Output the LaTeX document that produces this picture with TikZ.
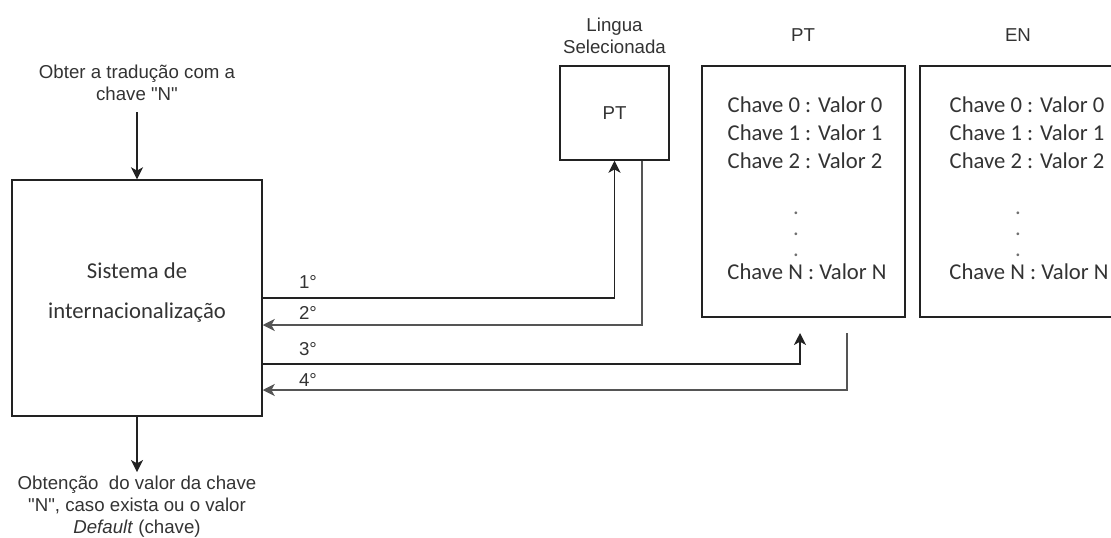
\documentclass[tikz,border=0pt]{standalone}
\usepackage{fontspec}
\setmainfont{Liberation Sans}[Ligatures=TeXOff]
\newfontfamily\calib{Carlito}
\usetikzlibrary{arrows.meta}
\definecolor{txt}{HTML}{333333}
\definecolor{ln}{HTML}{222222}
\definecolor{lng}{HTML}{555555}
\begin{document}
\begin{tikzpicture}[x=0.75pt,y=-0.75pt,
  lbl/.style={font=\fontsize{14}{16.5}\selectfont, text=txt, align=center, inner sep=0},
  ctext/.style={font=\calib\fontsize{17}{21}\selectfont, text=txt, align=center, inner sep=0},
  dots/.style={font=\calib\fontsize{17}{15.75}\selectfont, text=txt!70, align=center, inner sep=0},
  box/.style={draw=ln, line width=1.1pt, inner sep=0},
  arr/.style={draw=ln, line width=1.1pt, -{Stealth[length=9pt,width=9pt,inset=2.5pt]}},
  arrg/.style={arr, draw=lng}]
\useasboundingbox (0,0) rectangle (1111,537);

% main box
\node[box, minimum width=187.5pt, minimum height=177pt] (main) at (137,298) {};
\node[ctext, font=\calib\fontsize{17}{30}\selectfont] (systxt) at (137,293) {Sistema de\\internacionaliza\c{c}\~ao};

% input / output texts
\node[lbl] (obter) at (137,82.5) {Obter a tradução com a\\chave "N"};
\coordinate (instart) at (137,112);
\draw[arr] (instart) -- (main.north);
\coordinate (outend) at (137,472);
\draw[arr] (main.south) -- (outend);
\node[lbl] (obt) at (137,507) {Obtenção\ \ do valor da chave\\"N", caso exista ou o valor\\\textit{Default} (chave)};

% selected language
\node[lbl] (linglbl) at (614.5,36) {Lingua\\Selecionada};
\node[box, minimum width=81.75pt, minimum height=70.5pt] (lang) at (614.5,113) {};
\node[lbl] (langtxt) at (614.5,113) {PT};

% PT dictionary
\node[lbl] (ptlbl) at (803,35) {PT};
\node[box, minimum width=152.25pt, minimum height=188.25pt] (ptbox) at (803.5,191.5) {};
\node[ctext] (ptkeys) at (805,133) {Chave 0 : Valor 0\\Chave 1 : Valor 1\\Chave 2 : Valor 2};
\node[dots] (ptdots) at (796,234) {.\\.\\.};
\node[ctext] (ptn) at (807,272) {Chave N : Valor N};

% EN dictionary
\node[lbl] (enlbl) at (1018,35) {EN};
\node[box, minimum width=157.5pt, minimum height=188.25pt] (enbox) at (1025,191.5) {};
\node[ctext] (enkeys) at (1027,133) {Chave 0 : Valor 0\\Chave 1 : Valor 1\\Chave 2 : Valor 2};
\node[dots] (endots) at (1018,234) {.\\.\\.};
\node[ctext] (enn) at (1029,272) {Chave N : Valor N};

% connectors
\draw[arr] (main.east |- 0,298) -| (lang.south);
\draw[arrg] (642,0 |- lang.south) |- (main.east |- 0,325);
\coordinate (t3) at (800,333);
\draw[arr] (main.east |- 0,364) -| (t3);
\coordinate (s4) at (847,333);
\draw[arrg] (s4) |- (main.east |- 0,390);

% step labels
\node[lbl] (l1) at (308,282) {1°};
\node[lbl] (l2) at (308,313) {2°};
\node[lbl] (l3) at (308,349) {3°};
\node[lbl] (l4) at (308,380) {4°};
\end{tikzpicture}
\end{document}
